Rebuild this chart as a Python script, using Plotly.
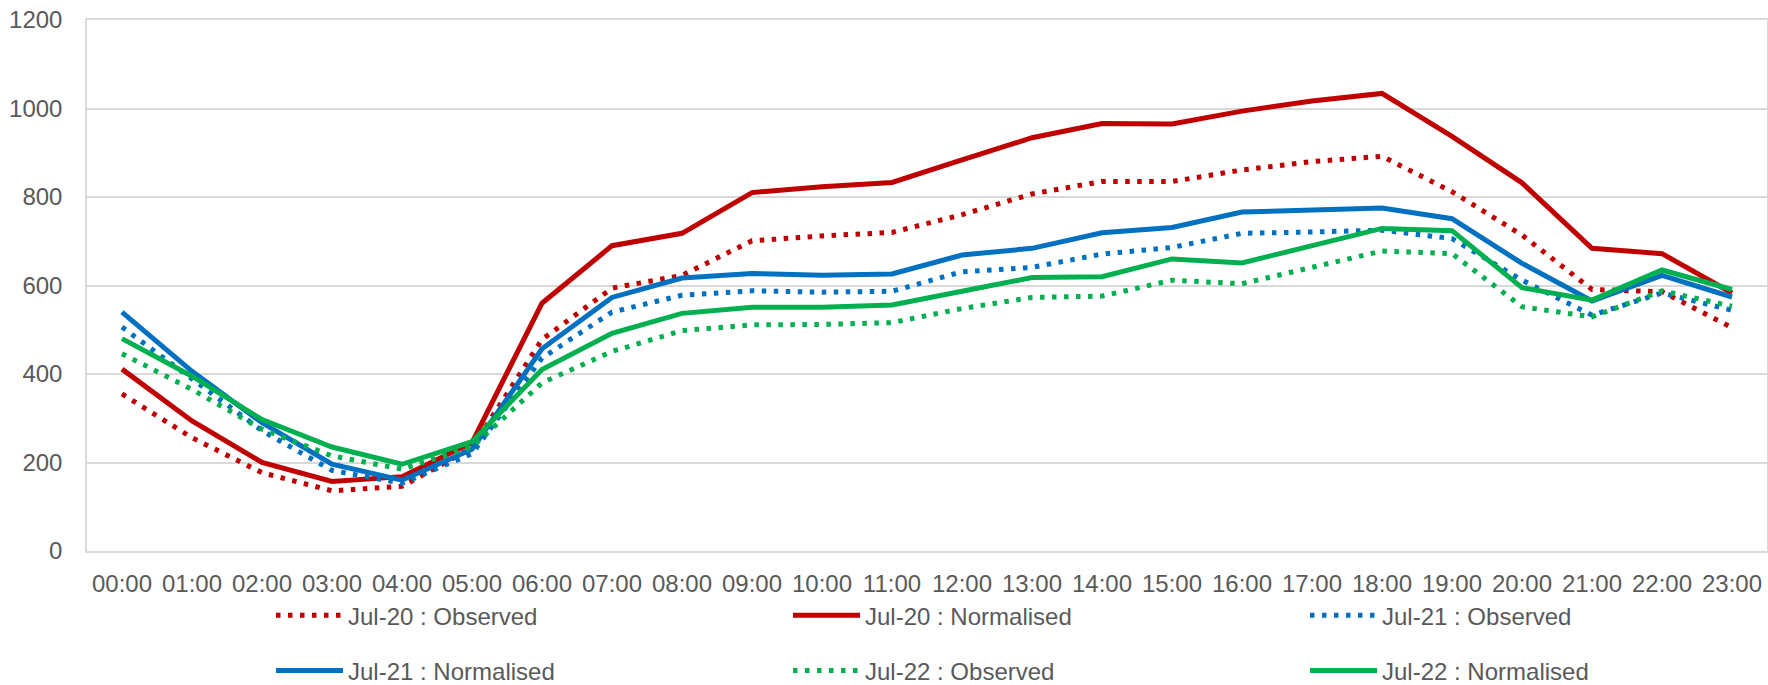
import plotly.graph_objects as go

hours = [f"{h:02d}:00" for h in range(24)]

jul20_observed = [355, 256, 177, 136, 146, 233, 478, 594, 623, 701, 712, 720, 760, 807, 835, 835, 861, 880, 892, 812, 714, 591, 586, 505]
jul20_normalised = [411, 294, 200, 157, 168, 245, 560, 690, 718, 810, 823, 833, 884, 934, 966, 965, 994, 1017, 1034, 937, 832, 684, 672, 583]
jul21_observed = [506, 388, 272, 182, 153, 220, 436, 540, 578, 588, 585, 587, 631, 641, 671, 686, 718, 721, 725, 706, 612, 533, 583, 544]
jul21_normalised = [540, 406, 290, 196, 160, 230, 457, 573, 617, 627, 623, 626, 669, 684, 719, 731, 766, 770, 775, 751, 650, 565, 623, 574]
jul22_observed = [446, 365, 275, 215, 185, 235, 380, 451, 498, 511, 512, 516, 548, 573, 576, 612, 604, 642, 678, 672, 552, 529, 588, 553]
jul22_normalised = [480, 395, 297, 235, 196, 247, 410, 492, 537, 551, 551, 556, 587, 618, 620, 660, 651, 691, 729, 724, 595, 567, 635, 591]

RED, BLUE, GREEN = "#C00000", "#0070C0", "#00B050"
DOT = "4.5px,7.5px"
FONT = "Liberation Sans, Arial, sans-serif"
TXT = "#595959"

series = [
    ("Jul-20 : Observed", jul20_observed, RED, DOT),
    ("Jul-20 : Normalised", jul20_normalised, RED, "solid"),
    ("Jul-21 : Observed", jul21_observed, BLUE, DOT),
    ("Jul-21 : Normalised", jul21_normalised, BLUE, "solid"),
    ("Jul-22 : Observed", jul22_observed, GREEN, DOT),
    ("Jul-22 : Normalised", jul22_normalised, GREEN, "solid"),
]

# legend slot (column, row) for each series, 3 entries per row
legend_cols_px = [271, 788, 1305]
legend_rows_px = [615.7, 671.0]

fig = go.Figure()
layout_legends = {}
for i, (name, vals, color, dash) in enumerate(series):
    key = "legend" if i == 0 else f"legend{i + 1}"
    fig.add_trace(go.Scatter(
        x=hours, y=vals, name=name, mode="lines",
        line=dict(color=color, width=5, dash=dash),
        legend=key, showlegend=True,
    ))
    col, row = i % 3, i // 3
    layout_legends[key] = dict(
        orientation="h", xref="container", yref="container",
        xanchor="left", yanchor="middle",
        x=legend_cols_px[col] / 1768, y=1 - legend_rows_px[row] / 685,
        font=dict(family=FONT, size=24, color=TXT),
        bgcolor="rgba(0,0,0,0)", borderwidth=0,
        itemwidth=67,
    )

fig.update_layout(
    width=1768, height=685,
    showlegend=True,
    margin=dict(l=87, r=1, t=20, b=134, autoexpand=False),
    paper_bgcolor="white", plot_bgcolor="white",
    font=dict(family=FONT, size=24, color=TXT),
    xaxis=dict(
        type="category", range=[-0.5, 23.5],
        showgrid=False, showline=True, linecolor="#D9D9D9", linewidth=1.5,
        mirror=True, ticks="", ticklabelstandoff=10,
        tickfont=dict(family=FONT, size=24, color=TXT),
        zeroline=False, fixedrange=True,
    ),
    yaxis=dict(
        range=[0, 1200], dtick=200, tick0=0,
        showgrid=True, gridcolor="#D9D9D9", gridwidth=1.5,
        showline=True, linecolor="#D9D9D9", linewidth=1.5, mirror=True,
        ticks="", ticklabelstandoff=18,
        tickfont=dict(family=FONT, size=24, color=TXT),
        zeroline=False, fixedrange=True,
    ),
    **layout_legends,
)

fig.write_html(
    "out.html",
    config={"displayModeBar": False},
    post_script="document.body.style.margin='0';document.body.style.overflow='hidden';",
)
